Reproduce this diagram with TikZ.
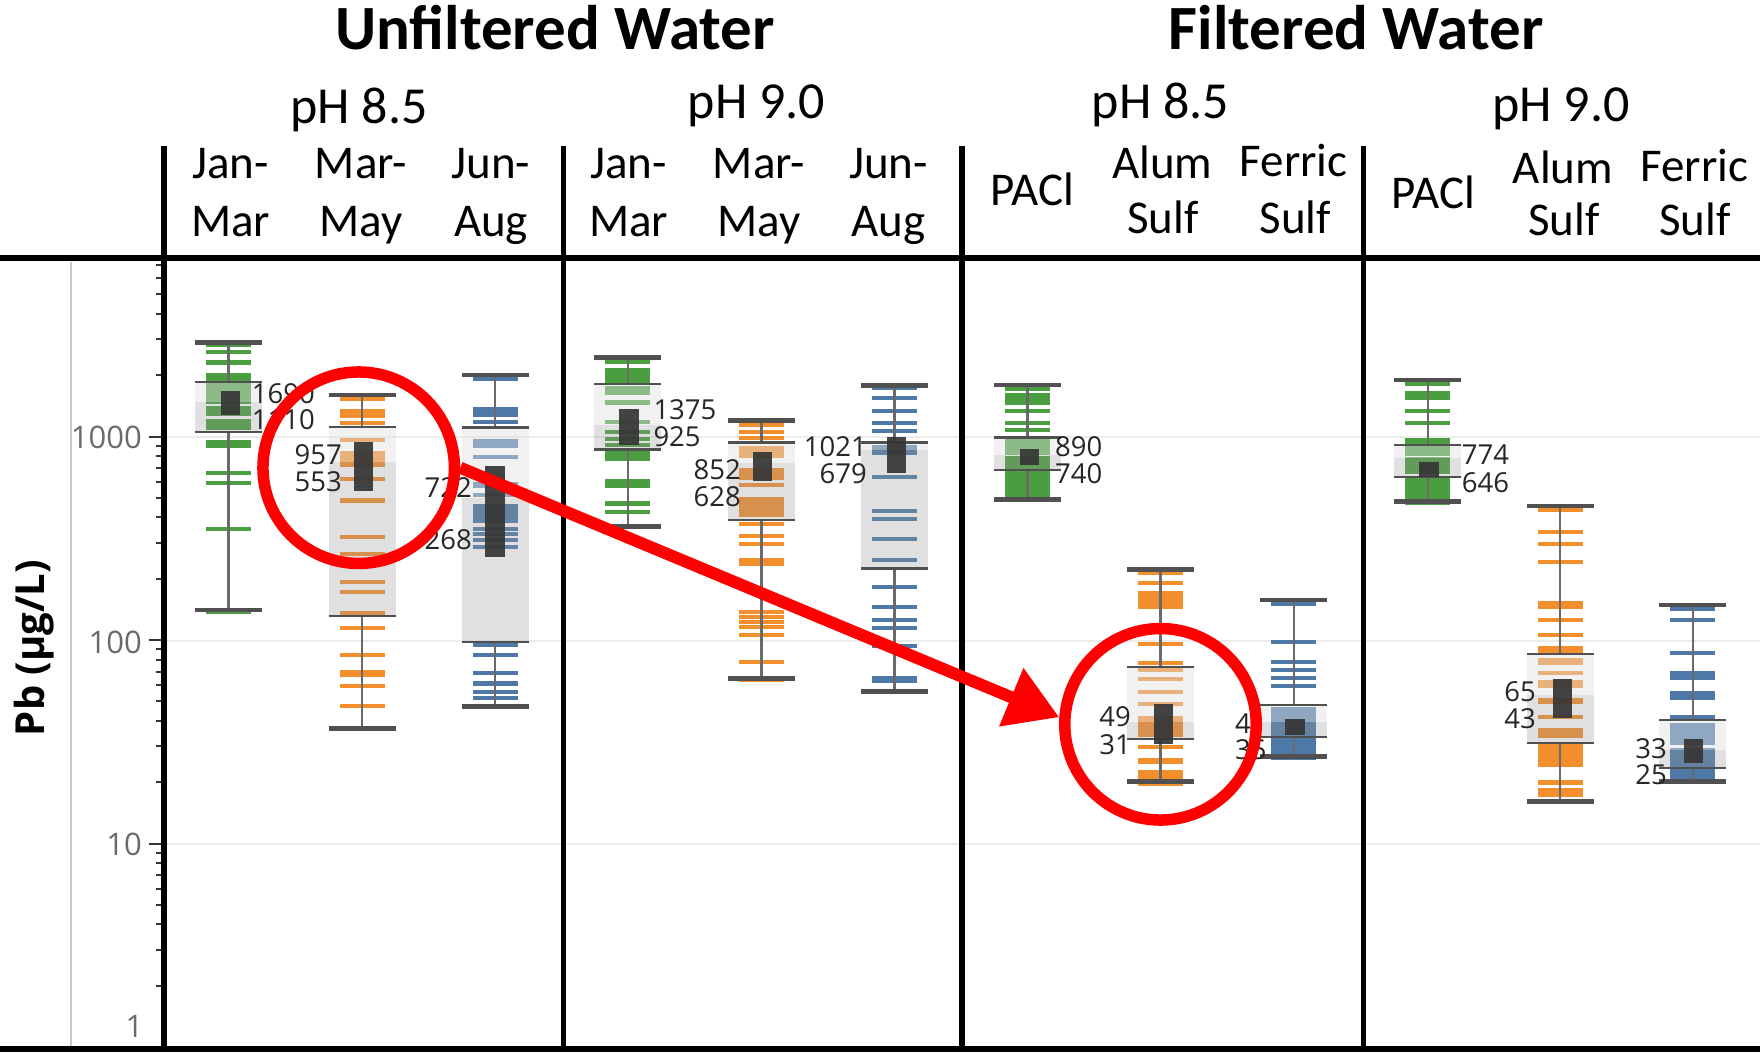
\documentclass[tikz,border=0pt]{standalone}
\usepackage{fontspec}
\setmainfont{Carlito}
\newfontfamily\numfont{Open Sans}
\usetikzlibrary{arrows.meta}

\definecolor{pbgreen}{HTML}{4A9E40}
\definecolor{pborange}{HTML}{F28E2B}
\definecolor{pbblue}{HTML}{4E79A7}
\definecolor{capgray}{HTML}{505050}
\definecolor{cigray}{HTML}{363636}
\definecolor{numgray}{HTML}{262626}
\definecolor{tickgray}{HTML}{333333}
\definecolor{ticklabel}{HTML}{6A6A6A}
\definecolor{gridgray}{HTML}{ECECEC}
\definecolor{axisgray}{HTML}{C8C8C8}
\definecolor{markred}{HTML}{FF0000}

\tikzset{
  frameline/.style={line width=5.5pt, black},
  capline/.style={line width=4.5pt, capgray},
  hingeline/.style={line width=2.4pt, capgray},
  whisker/.style={line width=2.5pt, capgray!85},
  cifill/.style={fill=cigray, fill opacity=0.93},
  upperband/.style={fill=black!12, fill opacity=0.45},
  lowerband/.style={fill=black!40, fill opacity=0.3},
  gridline/.style={line width=2pt, gridgray},
  axistick/.style={line width=2pt, tickgray},
  datalbl/.style={font=\numfont\fontsize{27.5}{30}\selectfont, text=numgray, inner sep=0pt},
  ticklbl/.style={font=\numfont\fontsize{31}{34}\selectfont, text=ticklabel, inner sep=0pt, anchor=east},
  titlelbl/.style={font=\bfseries\fontsize{63}{70}\selectfont, anchor=base, inner sep=0pt},
  phlbl/.style={font=\fontsize{52}{60}\selectfont, anchor=base, inner sep=0pt},
  collbl/.style={font=\fontsize{47}{54}\selectfont, anchor=base, inner sep=0pt},
  ring/.style={circle, draw=markred, line width=11.5pt, minimum size=191.5pt, inner sep=0pt},
  pointer/.style={markred, line width=12pt, -{Triangle[length=52pt, width=60pt]}},
}

% box plot: x centre, colour, top cap, upper hinge, median, lower hinge, bottom cap, data dashes
\newcommand\bplot[8]{%
  \foreach \a/\b in {#8}{\fill[#2] (#1-22.5,\a) rectangle (#1+22.5,\b);}
  \fill[upperband] (#1-33.5,#4) rectangle (#1+33.5,#5);
  \fill[lowerband] (#1-33.5,#5) rectangle (#1+33.5,#6);
  \draw[whisker] (#1,#3) -- (#1,#4) (#1,#6) -- (#1,#7);
  \draw[capline] (#1-33.5,#3) -- (#1+33.5,#3) (#1-33.5,#7) -- (#1+33.5,#7);
  \draw[hingeline] (#1-33.5,#4) -- (#1+33.5,#4) (#1-33.5,#6) -- (#1+33.5,#6);
}
% confidence bar of the median: x centre, top, bottom
\newcommand\cibar[3]{\fill[cifill] (#1-9.6,#2) rectangle (#1+9.6,#3);}

\begin{document}
\begin{tikzpicture}[x=1pt, y=-1pt]
\useasboundingbox (0,0) rectangle (1760,1052);
\fill[white] (0,0) rectangle (1760,1052);

% horizontal grid at 10, 100, 1000
\foreach \g in {436.6,640.9,844.4}{\draw[gridline] (166,\g) -- (1760,\g);}

% left guide line
\draw[axisgray, line width=1.2pt] (71,262) -- (71,1048);

% log ticks
\foreach \d in {0,1,2}{\foreach \k in {2,...,9}{%
  \draw[axistick] (156,{1047-203.5*(\d+log10(\k))}) -- (162,{1047-203.5*(\d+log10(\k))});}}
\foreach \k in {2,...,7}{%
  \draw[axistick] (156,{1047-203.5*(3+log10(\k))}) -- (162,{1047-203.5*(3+log10(\k))});}
\foreach \d in {0,1,2,3}{\draw[axistick] (148.5,{1047-203.5*\d}) -- (162,{1047-203.5*\d});}

\node[ticklbl] (t1000) at (142,437) {1000};
\node[ticklbl] (t100) at (142,642) {100};
\node[ticklbl] (t10) at (142,844) {10};
\node[ticklbl] (t1) at (143.5,1026) {1};

\node[rotate=90, font=\numfont\bfseries\fontsize{40}{44}\selectfont, inner sep=0pt] (ylab) at (34,648) {Pb (µg/L)};

% unfiltered, pH 8.5
\bplot{228.5}{pbgreen}{342.7}{381.7}{402}{431.7}{610}{343/347,350/354,360/364.5,373/381,383/404,406/416,419/430,440/448,471/475,481/485,527/531,609/614}
\cibar{230.3}{391}{415}
\bplot{362.2}{pborange}{395}{426.7}{462}{616}{728.3}{397/401,409/418,421/425,438/442,451/467,477/481,498/503,535/539,552/556,580/584,590/594,611/615,626/630,653/657,670/677,684/688,704/708,726/731}
\cibar{363.7}{441.7}{491}
\bplot{495}{pbblue}{375}{427.3}{498}{641.7}{706.7}{377/381,407/417,420/424,439/448,455/459,482/488,493/497,504/523,527/531,532/536,538/542,545/549,643/647,653/657,671/675,681/686,690/694,696/700,705/709}
\cibar{495}{466}{556.7}

% unfiltered, pH 9.0
\bplot{627.8}{pbgreen}{357.3}{384}{425}{449.3}{526.7}{360/364,368/383,386/395,400/405,420/424,430/434,437/441,443/447,451/461,479/488,501/506,510/514,525/529}
\cibar{629}{408.7}{445.3}
\bplot{761.3}{pborange}{420.7}{442.3}{463}{520}{678.3}{423/427,430/434,436/440,446/458,468/480,483/487,497/517,522/526,534/538,542/546,558/566,610/613.5,615/618.5,620/623.5,625/628.5,633/637,660/664,677/682}
\cibar{762.5}{451.7}{480.7}
\bplot{894.7}{pbblue}{385.3}{442.3}{450}{568.3}{691.7}{386/390,396/400,409/413,421/425,429/433,445/455,475/479,509/513,517/521,537/541,558/562,585/589,605/609,618/622,626/630,644/648,676/683,690/694}
\cibar{896.3}{437.3}{472.7}

% filtered, pH 8.5
\bplot{1027.5}{pbgreen}{385}{437.3}{455}{470}{499.3}{387/391,393/405,409/413,421/425,428/432,438/455,456/470,471/502}
\cibar{1029.7}{449.3}{465}
\bplot{1160.3}{pborange}{569.3}{666.7}{721.7}{739}{781.7}{571/575,581/585,591/609,642/646,661/665,668/672,677/681,690/694,702/706,716/737,745/749,758/764,770/786}
\cibar{1163.8}{704.3}{744}
\bplot{1293.8}{pbblue}{600}{705}{722}{736.7}{756.7}{602/606,640/644,660/664,668/672,676/680,684/688,707/760}
\cibar{1295}{719.3}{735}

% filtered, pH 9.0
\bplot{1427.8}{pbgreen}{380}{445}{458.3}{476.7}{501.7}{382/386,391/400,409/413,421/425,438/444,446/456,457/474,478/505}
\cibar{1429}{461.7}{476.7}
\bplot{1560.2}{pborange}{506}{654}{695}{742.7}{801.7}{508/512,530/534,542/546,560/564,601/609,618/622,633/637,646/654,658/665,671/675,680/688,698/704,715/719,728/738,743/767,780/785,788/797,800/804}
\cibar{1562.8}{679.3}{717.7}
\bplot{1692.8}{pbblue}{605}{720}{750}{767.7}{781.7}{607/611,618/622,651/655,671/680,691/700,715/719,723/745,748/784}
\cibar{1693.8}{739.3}{763.3}

% median interval values
\node[datalbl, anchor=west] (v1a) at (251.7,393.3) {1690};
\node[datalbl, anchor=west] (v1b) at (251.7,420) {1110};
\node[datalbl, anchor=east] (v2a) at (342,455) {957};
\node[datalbl, anchor=east] (v2b) at (342,481.7) {553};
\node[datalbl, anchor=east] (v3a) at (472,488) {722};
\node[datalbl, anchor=east] (v3b) at (472,540) {268};
\node[datalbl, anchor=west] (v4a) at (653.3,410) {1375};
\node[datalbl, anchor=west] (v4b) at (653.3,436.7) {925};
\node[datalbl, anchor=east] (v5a) at (741,470) {852};
\node[datalbl, anchor=east] (v5b) at (741,496.7) {628};
\node[datalbl, anchor=east] (v6a) at (867,446.7) {1021};
\node[datalbl, anchor=east] (v6b) at (867,473.3) {679};
\node[datalbl, anchor=west] (v7a) at (1055,446.7) {890};
\node[datalbl, anchor=west] (v7b) at (1055,473.3) {740};
\node[datalbl, anchor=east] (v8a) at (1131,716.7) {49};
\node[datalbl, anchor=east] (v8b) at (1131,745) {31};
\node[datalbl, anchor=west] (v9a) at (1235,723.3) {41};
\node[datalbl, anchor=west] (v9b) at (1235,750) {35};
\node[datalbl, anchor=west] (v10a) at (1461.7,455) {774};
\node[datalbl, anchor=west] (v10b) at (1461.7,482.7) {646};
\node[datalbl, anchor=east] (v11a) at (1536,691.7) {65};
\node[datalbl, anchor=east] (v11b) at (1536,718.3) {43};
\node[datalbl, anchor=east] (v12a) at (1667,748.3) {33};
\node[datalbl, anchor=east] (v12b) at (1667,775) {25};

% frame
\draw[frameline] (0,258) -- (1760,258);
\draw[frameline] (0,1049) -- (1760,1049);
\foreach \xx in {164,563.5,962,1363.5}{\draw[frameline] (\xx,146) -- (\xx,1052);}

% headings
\node[titlelbl] (hunf) at (555,49) {Unfiltered Water};
\node[titlelbl] (hfil) at (1356,49) {Filtered Water};
\node[phlbl] (ph1) at (359,123) {pH 8.5};
\node[phlbl] (ph2) at (756.5,118) {pH 9.0};
\node[phlbl] (ph3) at (1160.6,118) {pH 8.5};
\node[phlbl] (ph4) at (1561,121) {pH 9.0};

\node[collbl] (c1a) at (230.6,178) {Jan-};
\node[collbl] (c1b) at (230.6,236) {Mar};
\node[collbl] (c2a) at (360.9,178) {Mar-};
\node[collbl] (c2b) at (360.9,236) {May};
\node[collbl] (c3a) at (491,178) {Jun-};
\node[collbl] (c3b) at (491,236) {Aug};
\node[collbl] (c4a) at (628.6,178) {Jan-};
\node[collbl] (c4b) at (628.6,236) {Mar};
\node[collbl] (c5a) at (759,178) {Mar-};
\node[collbl] (c5b) at (759,236) {May};
\node[collbl] (c6a) at (888.4,178) {Jun-};
\node[collbl] (c6b) at (888.4,236) {Aug};
\node[collbl] (c7) at (1032.6,205) {PACl};
\node[collbl] (c8a) at (1162.3,178) {Alum};
\node[collbl] (c8b) at (1162.8,233) {Sulf};
\node[collbl] (c9a) at (1293.6,176) {Ferric};
\node[collbl] (c9b) at (1295.3,233) {Sulf};
\node[collbl] (c10) at (1433.3,208) {PACl};
\node[collbl] (c11a) at (1563,183) {Alum};
\node[collbl] (c11b) at (1564,235) {Sulf};
\node[collbl] (c12a) at (1694.3,181) {Ferric};
\node[collbl] (c12b) at (1694.8,235) {Sulf};

% highlight rings and pointer
\node[ring] (ringA) at (358.7,467.7) {};
\node[ring] (ringB) at (1160.5,724.3) {};
\draw[pointer] (ringA.east) -- (ringB.176);
\end{tikzpicture}
\end{document}
